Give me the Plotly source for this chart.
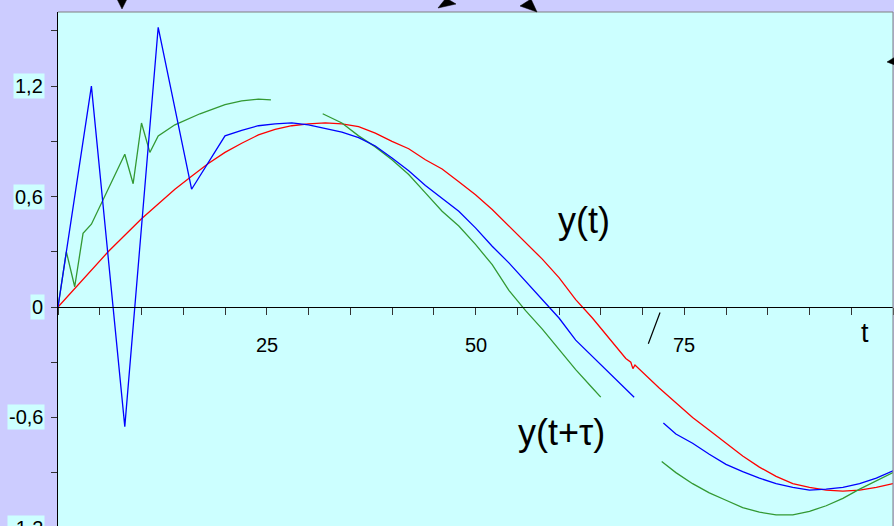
import plotly.graph_objects as go

# ---- data ----
red_t = [0, 2, 4, 6, 8, 10, 12, 14, 16, 18, 20, 22, 24, 26, 28, 30, 32, 34, 36, 38, 40,
         42, 44, 46, 48, 50, 52, 54, 56, 58, 60, 62, 64, 66, 68, 68.6, 68.85, 69.1, 70,
         72, 74, 76, 78, 80, 82, 84, 86, 88, 90, 92, 94, 96, 98, 100]
red_y = [0, 0.10, 0.20, 0.30, 0.39, 0.48, 0.56, 0.64, 0.71, 0.78, 0.84, 0.89, 0.935, 0.965,
         0.985, 0.995, 1.0, 0.995, 0.98, 0.945, 0.90, 0.86, 0.80, 0.75, 0.68, 0.61, 0.53,
         0.44, 0.35, 0.26, 0.16, 0.04, -0.06, -0.17, -0.28, -0.30, -0.335, -0.315, -0.355,
         -0.44, -0.52, -0.60, -0.67, -0.74, -0.81, -0.87, -0.92, -0.96, -0.98, -0.995,
         -1.0, -0.995, -0.98, -0.96]

blue_t = [0, 4, 8, 12, 16, 20, 22, 24, 26, 28, 30, 32, 34, 36, 38, 40, 42, 44, 46, 48, 50,
          52, 54, 56, 58, 60, 62, 64, 66, 68, 69, None, 72.5, 74, 76, 78, 80, 82, 84, 86,
          88, 90, 92, 94, 96, 98, 100]
blue_y = [0, 1.20, -0.65, 1.52, 0.64, 0.93, 0.96, 0.985, 0.995, 1.0, 0.99, 0.97, 0.95, 0.92,
          0.875, 0.81, 0.74, 0.66, 0.59, 0.52, 0.43, 0.33, 0.24, 0.14, 0.04, -0.06, -0.18,
          -0.27, -0.36, -0.45, -0.49, None, -0.63, -0.69, -0.74, -0.80, -0.855, -0.895,
          -0.93, -0.96, -0.98, -0.995, -0.99, -0.98, -0.96, -0.93, -0.89]

green_t = [0, 1, 2, 3, 4, 6, 8, 9, 10, 11, 12, 14, 17, 20, 22, 24, 25.5, None,
           31.7, 34, 36, 38, 40, 42, 44, 46, 48, 50, 52, 54, 56, 58, 60, 62, 64, 65, None,
           72.3, 74, 76, 78, 80, 82, 84, 86, 88, 90, 92, 94, 96, 98, 100]
green_y = [0, 0.30, 0.11, 0.40, 0.45, 0.64, 0.83, 0.67, 1.0, 0.84, 0.93, 0.99, 1.05, 1.10,
           1.12, 1.13, 1.125, None,
           1.05, 1.00, 0.93, 0.87, 0.80, 0.72, 0.62, 0.52, 0.44, 0.34, 0.23, 0.09, -0.02,
           -0.12, -0.23, -0.34, -0.44, -0.49, None,
           -0.84, -0.90, -0.96, -1.01, -1.05, -1.09, -1.115, -1.13, -1.13, -1.11, -1.08,
           -1.04, -0.99, -0.945, -0.90]

y_tick_vals = [-1.2, -0.9, -0.6, -0.3, 0, 0.3, 0.6, 0.9, 1.2, 1.5]
y_label_vals = [1.2, 0.6, 0, -0.6, -1.2]
y_label_text = ["1,2", "0,6", "0", "-0,6", "-1,2"]
x_tick_vals = list(range(0, 101, 5))
x_label_vals = [25, 50, 75]
x_label_text = ["25", "50", "75"]

X_RANGE = [0, 100]
Y_RANGE = [-1.19, 1.603]

FONT = "Arial, 'Liberation Sans', sans-serif"

fig = go.Figure()
fig.add_trace(go.Scatter(x=red_t, y=red_y, mode="lines",
                         line=dict(color="#FF0000", width=1.3), connectgaps=False))
fig.add_trace(go.Scatter(x=green_t, y=green_y, mode="lines",
                         line=dict(color="#339933", width=1.3), connectgaps=False))
fig.add_trace(go.Scatter(x=blue_t, y=blue_y, mode="lines",
                         line=dict(color="#0000FF", width=1.3), connectgaps=False))


def yfrac(v):
    return (v - Y_RANGE[0]) / (Y_RANGE[1] - Y_RANGE[0])


annotations = []
for v, txt in zip(y_label_vals, y_label_text):
    annotations.append(dict(x=0, xref="paper", xanchor="right", xshift=-13,
                            y=yfrac(v), yref="paper", yanchor="middle",
                            text=txt, showarrow=False, bgcolor="#CCFFFF", borderpad=1,
                            font=dict(family=FONT, size=20, color="black")))
for v, txt in zip(x_label_vals, x_label_text):
    annotations.append(dict(x=v, xref="x", y=0, yref="y", yshift=-38,
                            text=txt, showarrow=False,
                            font=dict(family=FONT, size=20, color="black")))

annotations += [
    dict(x=0.974, xref="paper", y=0, yref="y", yshift=-26, text="t", showarrow=False,
         font=dict(family=FONT, size=27, color="black")),
    dict(x=63, xref="x", y=0.47, yref="y", text="y(t)", showarrow=False,
         font=dict(family=FONT, size=36, color="black")),
    dict(x=60.3, xref="x", y=-0.68, yref="y", text="y(t+τ)", showarrow=False,
         font=dict(family=FONT, size=36, color="black")),
]


# decorative arrowheads at the top / right edges (pixel -> paper)
def px_to_paper(px, py):
    return (px - 58) / 835, (526 - py) / 514


def tri_path(pts):
    p = [px_to_paper(*q) for q in pts]
    return "M {} {} L {} {} L {} {} Z".format(p[0][0], p[0][1], p[1][0], p[1][1],
                                             p[2][0], p[2][1])


arrowheads = [
    [(117, -1), (127, -1), (122, 9)],
    [(438, 8), (456, 4), (446, -2)],
    [(537, 12), (520, 6), (531, -1)],
    [(887, 62), (895, 57), (895, 65)],
]

shapes = [
    dict(type="line", xref="paper", yref="paper", x0=0, x1=1, y0=1, y1=1,
         line=dict(color="#808080", width=1)),
    dict(type="line", xref="paper", yref="paper", x0=1, x1=1, y0=0, y1=1,
         line=dict(color="#808080", width=1)),
    dict(type="line", xref="x", yref="y", x0=72.1, y0=-0.03, x1=70.7, y1=-0.20,
         line=dict(color="black", width=1.2)),
]
for pts in arrowheads:
    shapes.append(dict(type="path", xref="paper", yref="paper", path=tri_path(pts),
                       fillcolor="black", line=dict(color="black", width=0.5)))

fig.update_layout(
    width=894, height=526,
    margin=dict(l=58, r=1, t=12, b=0, pad=0),
    paper_bgcolor="#CCCCFF", plot_bgcolor="#CCFFFF",
    showlegend=False,
    xaxis=dict(range=X_RANGE, anchor="free", position=yfrac(0),
               showline=True, linecolor="black", linewidth=1,
               ticks="outside", ticklen=7, tickcolor="#333333", tickwidth=1,
               tickvals=x_tick_vals, showticklabels=False,
               showgrid=False, zeroline=False),
    yaxis=dict(range=Y_RANGE, showline=True, linecolor="black", linewidth=1,
               ticks="outside", ticklen=6, tickcolor="#333333", tickwidth=1,
               tickvals=y_tick_vals, showticklabels=False,
               showgrid=False, zeroline=False),
    annotations=annotations,
    shapes=shapes,
)

fig.write_html("out.html")
